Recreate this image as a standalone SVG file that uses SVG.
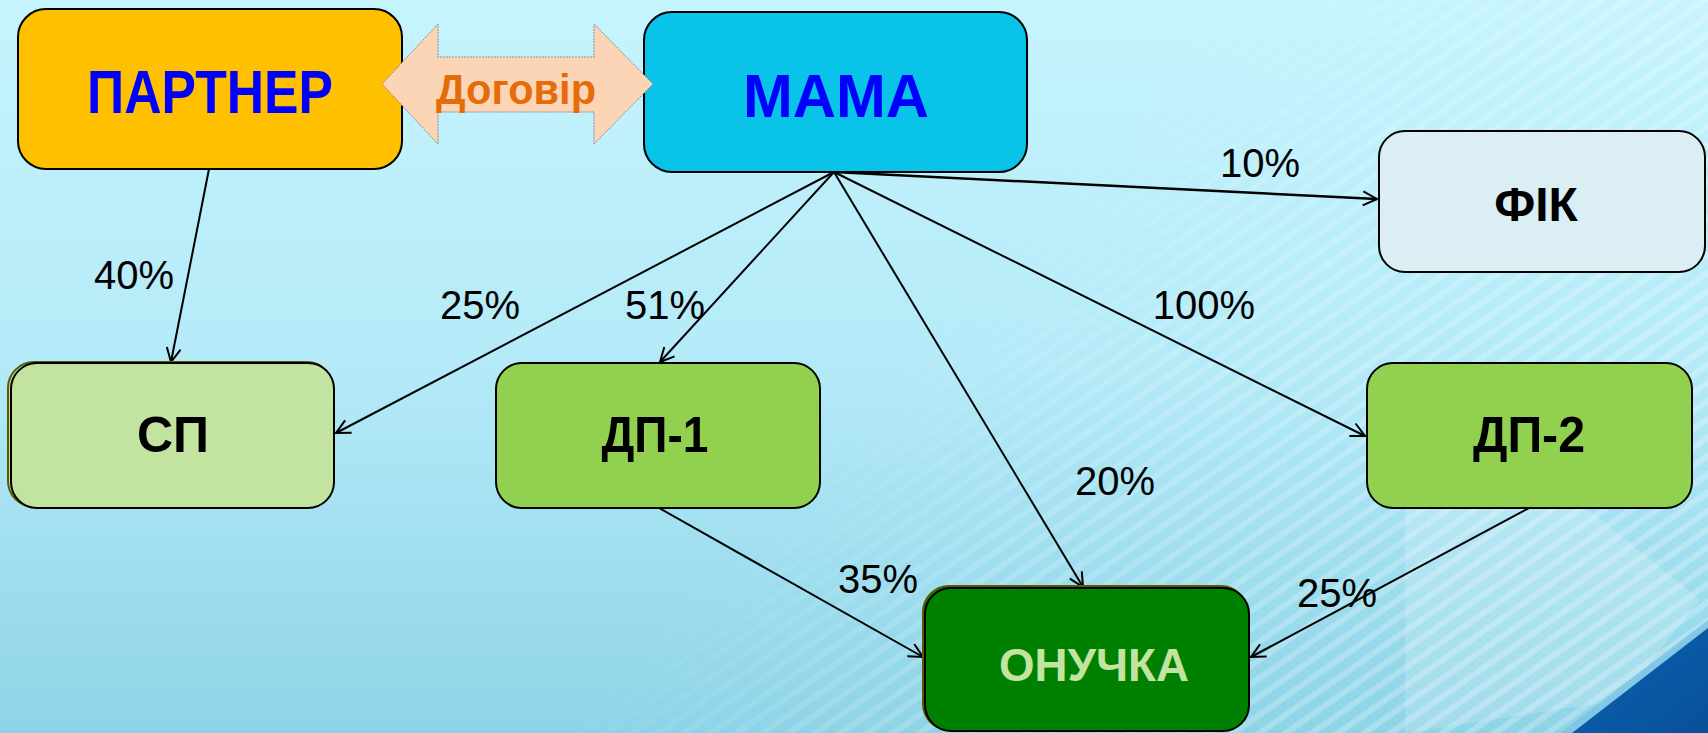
<svg xmlns="http://www.w3.org/2000/svg" width="1708" height="733" viewBox="0 0 1708 733">
<style>
.node{stroke:#000;stroke-width:2}
.lbl{font-family:"Liberation Sans",Arial,sans-serif;font-weight:bold;text-anchor:middle}
.pct{font-family:"Liberation Sans",Arial,sans-serif;font-size:40px;fill:#000;text-anchor:middle}
.edge{stroke:#000;stroke-width:2;fill:none;marker-end:url(#arr)}
</style>
<defs>
<linearGradient id="bg" x1="0" y1="0" x2="0" y2="1">
<stop offset="0" stop-color="#C6F4FE"/>
<stop offset="0.5" stop-color="#B4EAF8"/>
<stop offset="1" stop-color="#8ED4E7"/>
</linearGradient>
<pattern id="stripes" width="15" height="15" patternUnits="userSpaceOnUse" patternTransform="rotate(-35)">
<rect x="0" y="0" width="15" height="6" fill="#fff"/>
</pattern>
<linearGradient id="fade" gradientUnits="userSpaceOnUse" x1="980" y1="250" x2="1420" y2="640">
<stop offset="0" stop-color="#fff" stop-opacity="0"/>
<stop offset="0.4" stop-color="#fff" stop-opacity="0.3"/>
<stop offset="1" stop-color="#fff" stop-opacity="0.45"/>
</linearGradient>
<mask id="m">
<rect width="1708" height="733" fill="url(#fade)"/>
</mask>
<linearGradient id="blue" x1="0" y1="0" x2="1" y2="1">
<stop offset="0" stop-color="#1E7FC8"/>
<stop offset="0.3" stop-color="#0A5DAA"/>
<stop offset="1" stop-color="#08509A"/>
</linearGradient>
<marker id="arr" viewBox="0 0 16 16" refX="15" refY="8" markerWidth="16" markerHeight="16" markerUnits="userSpaceOnUse" orient="auto">
<path d="M1,1 L15,8 L1,15" fill="none" stroke="#000" stroke-width="2"/>
</marker>
</defs>
<rect width="1708" height="733" fill="url(#bg)"/>
<rect width="1708" height="733" fill="url(#stripes)" mask="url(#m)" opacity="0.55"/>
<polygon points="1405,470 1540,470 1700,600 1620,700 1405,733" fill="#fff" opacity="0.18"/>
<polygon points="1560,733 1708,620 1708,733" fill="#7CC3E6" opacity="0.8"/>
<polygon points="1572,733 1708,628 1708,733" fill="url(#blue)"/>

<g id="connectors">
<line class="edge" x1="209" y1="169" x2="171" y2="362"/>
<line class="edge" x1="834" y1="172" x2="1377" y2="199" style="stroke-width:2.5"/>
<line class="edge" x1="834" y1="172" x2="336" y2="433"/>
<line class="edge" x1="834" y1="172" x2="660" y2="362"/>
<line class="edge" x1="834" y1="172" x2="1083" y2="587"/>
<line class="edge" x1="834" y1="172" x2="1365" y2="436"/>
<line class="edge" x1="659" y1="508" x2="923" y2="657"/>
<line class="edge" x1="1529" y1="508" x2="1251" y2="657"/>
</g>

<g id="labels">
<text class="pct" x="1260" y="177">10%</text>
<text class="pct" x="134" y="289">40%</text>
<text class="pct" x="480" y="319">25%</text>
<text class="pct" x="665" y="319">51%</text>
<text class="pct" x="1204" y="319">100%</text>
<text class="pct" x="1115" y="495">20%</text>
<text class="pct" x="878" y="593">35%</text>
<text class="pct" x="1337" y="607">25%</text>
</g>

<g id="partner">
<rect class="node" x="18" y="9" width="384" height="160" rx="28" fill="#FFC000"/>
<text class="lbl" x="210" y="113" font-size="62" fill="#0000FF" textLength="246" lengthAdjust="spacingAndGlyphs">ПАРТНЕР</text>
</g>

<g id="mama">
<rect class="node" x="644" y="12" width="383" height="160" rx="28" fill="#09C3E8"/>
<text class="lbl" x="836" y="117" font-size="62" fill="#0000FF" textLength="186" lengthAdjust="spacingAndGlyphs">МАМА</text>
</g>

<g id="dogovir">
<polygon points="382,84 438,24 438,57 594,57 594,24 653,84 594,144 594,112 438,112 438,144" fill="#FBD5B5" stroke="#8C8C8C" stroke-width="1" stroke-dasharray="2,1"/>
<text class="lbl" x="516" y="104" font-size="42" fill="#E46C0A" textLength="160" lengthAdjust="spacingAndGlyphs">Договір</text>
</g>

<g id="fik">
<rect class="node" x="1379" y="131" width="326" height="141" rx="26" fill="#DAEEF3"/>
<text class="lbl" x="1536" y="221" font-size="48" fill="#000">ФІК</text>
</g>

<g id="sp">
<rect x="8" y="362" width="325" height="145" rx="26" fill="#C3E3A0" stroke="#5A5A00" stroke-width="2"/>
<rect class="node" x="11" y="363" width="323" height="145" rx="26" fill="#C3E3A0"/>
<text class="lbl" x="173" y="452" font-size="50" fill="#000">СП</text>
</g>

<g id="dp1">
<rect class="node" x="496" y="363" width="324" height="145" rx="26" fill="#92D050"/>
<text class="lbl" x="655" y="452" font-size="50" fill="#000" textLength="107" lengthAdjust="spacingAndGlyphs">ДП-1</text>
</g>

<g id="dp2">
<rect class="node" x="1367" y="363" width="325" height="145" rx="26" fill="#92D050"/>
<text class="lbl" x="1529" y="452" font-size="50" fill="#000" textLength="112" lengthAdjust="spacingAndGlyphs">ДП-2</text>
</g>

<g id="onuchka">
<rect x="923" y="586" width="324" height="144" rx="26" fill="#008000" stroke="#5A5A00" stroke-width="2"/>
<rect class="node" x="925" y="588" width="324" height="143" rx="26" fill="#008000"/>
<text class="lbl" x="1094" y="681" font-size="46" fill="#C3E3A0" textLength="190" lengthAdjust="spacingAndGlyphs">ОНУЧКА</text>
</g>
</svg>
